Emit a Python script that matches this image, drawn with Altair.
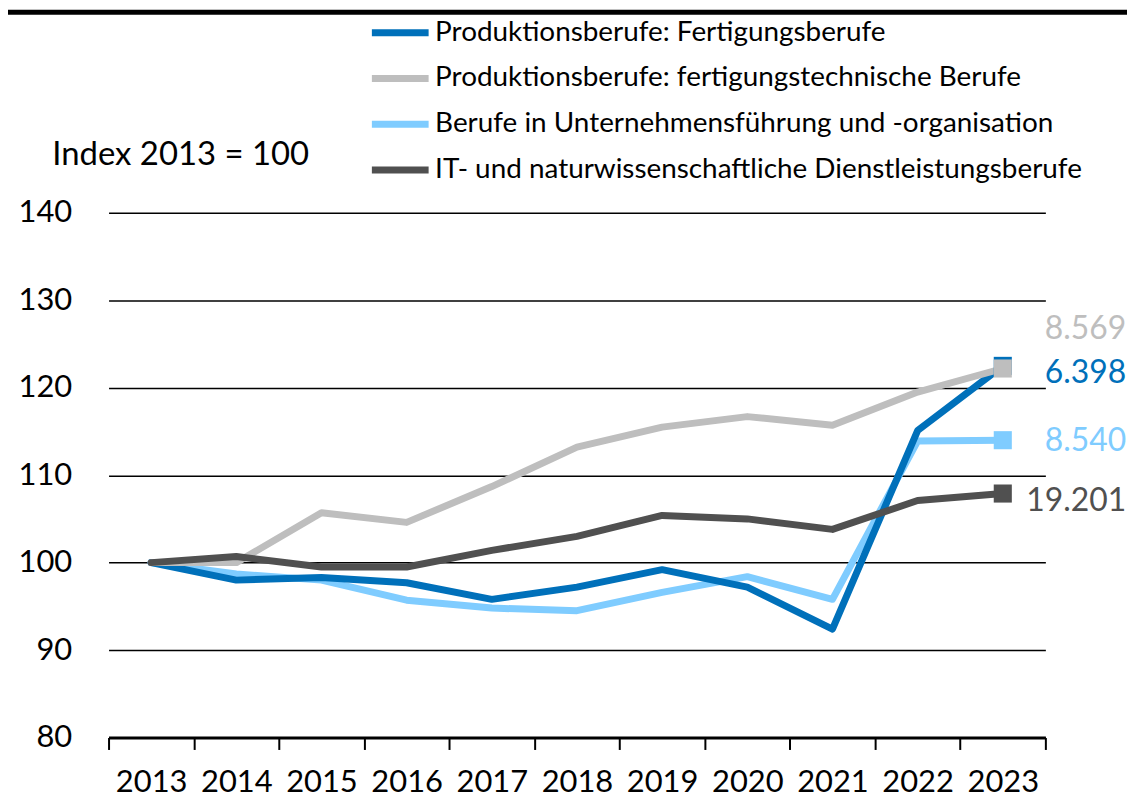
import altair as alt
import pandas as pd

years = [str(y) for y in range(2013, 2024)]
series_names = [
    "Produktionsberufe: Fertigungsberufe",
    "Produktionsberufe: fertigungstechnische Berufe",
    "Berufe in Unternehmensführung und -organisation",
    "IT- und naturwissenschaftliche Dienstleistungsberufe",
]
fertigung = [100, 98.0, 98.3, 97.7, 95.8, 97.2, 99.2, 97.2, 92.4, 115.1, 122.5]
fertigungstechnik = [100, 100.0, 105.7, 104.6, 108.7, 113.2, 115.5, 116.7, 115.7, 119.5, 122.2]
unternehmen = [100, 98.7, 98.0, 95.7, 94.8, 94.5, 96.6, 98.4, 95.8, 113.9, 114.0]
it_nawi = [100, 100.7, 99.5, 99.5, 101.4, 103.0, 105.4, 105.0, 103.8, 107.1, 107.9]
end_labels = ["6.398", "8.569", "8.540", "19.201"]
label_anchor = [121.7, 126.7, 113.9, 107.0]
colors = ["#0070BA", "#BEBEBE", "#7FCCFF", "#505050"]
y_ticks = [80, 90, 100, 110, 120, 130, 140]

values_by_series = [fertigung, fertigungstechnik, unternehmen, it_nawi]
rows = []
for name, vals in zip(series_names, values_by_series):
    for yr, v in zip(years, vals):
        rows.append({"year": yr, "series": name, "value": v})
df = pd.DataFrame(rows)
lab = pd.DataFrame({"series": series_names, "label": end_labels,
                    "anchor": label_anchor, "year": years[-1]})

FONT = "Lato"
color_scale = alt.Scale(domain=series_names, range=colors)
legend = alt.Legend(
    title=None, orient="none", legendX=261, legendY=-213,
    symbolType="stroke", symbolSize=3249, symbolStrokeWidth=7,
    labelFontSize=28, labelFont=FONT, labelColor="#000000", labelOffset=3,
    rowPadding=-19, labelLimit=900,
)
x_enc = alt.X("year:O", bandPosition=0.5,
              scale=alt.Scale(type="band", paddingInner=0, paddingOuter=0),
              axis=alt.Axis(title=None, labelAngle=0, tickBand="extent",
                            domainColor="#000000", domainWidth=3,
                            tickColor="#000000", tickWidth=2, tickSize=12,
                            labelFontSize=31, labelPadding=18, labelColor="#000000",
                            grid=False))
y_enc = alt.Y("value:Q", scale=alt.Scale(domain=[80, 140], nice=False, zero=False),
              axis=alt.Axis(values=y_ticks, title="Index 2013 = 100", titleAngle=0,
                            titleAlign="left", titleBaseline="middle",
                            titleX=-57, titleY=-59, titleFontSize=33,
                            titleFontWeight="normal", titleFont=FONT, titleColor="#000000",
                            domain=False, ticks=False, labelPadding=37,
                            labelFontSize=31, labelColor="#000000",
                            grid=True, gridColor="#000000", gridWidth=1.5))

base = alt.Chart(df)
draw_order = [2, 0, 1, 3]
layers = []
for i in draw_order:
    layers.append(
        base.transform_filter(alt.datum.series == series_names[i])
        .mark_line(strokeWidth=7, strokeCap="round", strokeJoin="round")
        .encode(x=x_enc, y=y_enc,
                color=alt.Color("series:N", scale=color_scale, legend=legend))
    )
for i in draw_order:
    layers.append(
        base.transform_filter((alt.datum.series == series_names[i]) & (alt.datum.year == years[-1]))
        .mark_square(size=330, opacity=1, filled=True)
        .encode(x=x_enc, y=y_enc,
                color=alt.Color("series:N", scale=color_scale, legend=legend))
    )
layers.append(
    alt.Chart(lab).mark_text(align="right", baseline="middle", dx=124, fontSize=32, font=FONT)
    .encode(x=x_enc, y=alt.Y("anchor:Q"), text="label:N",
            color=alt.Color("series:N", scale=color_scale, legend=legend))
)
top_line = alt.Chart(pd.DataFrame({"a": [0]})).mark_rule(color="#000000", strokeWidth=5).encode(
    x=alt.value(-101), x2=alt.value(1030), y=alt.value(-201.5))
layers.append(top_line)

chart = alt.layer(*layers).properties(
    width=941, height=527,
    autosize=alt.AutoSizeParams(type="none"),
    padding={"left": 101, "top": 204, "right": 82, "bottom": 59},
).configure(font=FONT).configure_view(stroke=None)

chart.save("out.html", embed_options={"renderer": "svg", "actions": False})
